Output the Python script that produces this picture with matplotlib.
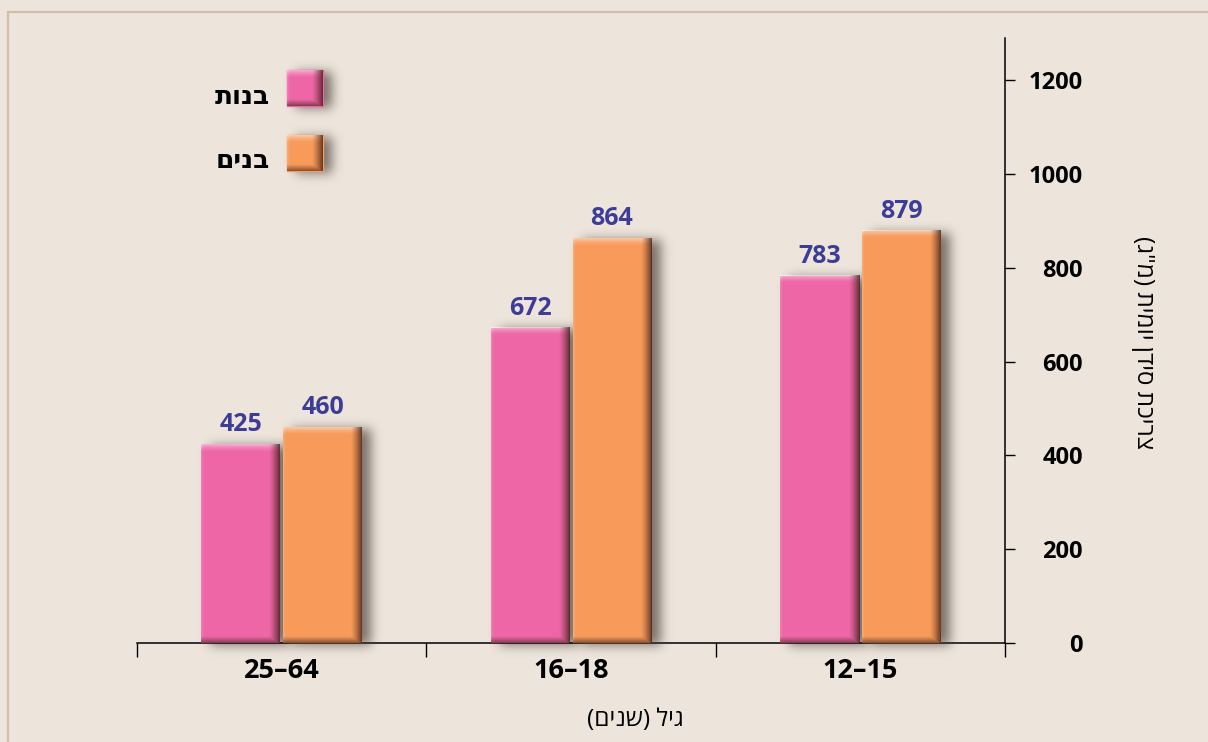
import numpy as np
import matplotlib
matplotlib.use('Agg')
import matplotlib.pyplot as plt
from matplotlib.patches import Rectangle

plt.rcParams['font.family'] = ['Open Sans', 'DejaVu Sans']

# צריכת סידן יומית לפי גיל ומין (מ"ג)
# סדר הקבוצות משמאל לימין כמו בגרף (כיוון קריאה מימין לשמאל)
age_groups = ['25–64', '16–18', '12–15']
girls = [425, 672, 783]
boys = [460, 864, 879]

# matplotlib לא הופך טקסט עברי - המחרוזות כתובות בסדר חזותי
label_girls = 'תונב'            # בנות
label_boys = 'םינב'             # בנים
x_title = '(םינש) ליג'          # גיל (שנים)
y_title = '(ג"מ) תימוי ןדיס תכירצ'  # צריכת סידן יומית (מ"ג)

BG = '#EDE5DC'
PINK = '#EE66A6'
ORANGE = '#F79A5A'
VALUE_COLOR = '#3D3D95'

W_PX, H_PX = 1208, 742
fig = plt.figure(figsize=(W_PX / 100, H_PX / 100), dpi=100, facecolor=BG)

# מסגרת דקה סביב האזור
fig.patches.append(Rectangle((8 / W_PX, -0.01), 1.2, 1 - 12 / H_PX + 0.01,
                             transform=fig.transFigure, fill=False,
                             edgecolor='#D2BEA5', lw=1.6, zorder=0))

ax = fig.add_axes([137 / W_PX, 1 - 643 / H_PX, (1005 - 137) / W_PX, (643 - 38) / H_PX])
ax.set_facecolor('none')
ax.set_xlim(-0.5, 2.5)
ax.set_ylim(0, 1290)


def gauss_blur(a, s):
    r = int(3 * s)
    k = np.exp(-np.arange(-r, r + 1) ** 2 / (2 * s * s))
    k /= k.sum()
    a = np.apply_along_axis(lambda v: np.convolve(v, k, mode='same'), 0, a)
    a = np.apply_along_axis(lambda v: np.convolve(v, k, mode='same'), 1, a)
    return a


def bevel(axis, x0, y0, x1, y1, z=3):
    """צל ותבליט על מלבן שכבר צויר (קואורדינטות נתונים)"""
    xl, yl = axis.get_xlim(), axis.get_ylim()
    (px0, py0), (px1, py1) = axis.transData.transform([(x0, y0), (x1, y1)])
    w = max(int(round(px1 - px0)), 2)
    h = max(int(round(py1 - py0)), 2)
    inv = axis.transData.inverted()

    # צל מטושטש מימין לעמודה
    pad, ox, oy = 28, 9, -2
    m = np.zeros((h + 2 * pad, w + 2 * pad))
    m[pad + oy:pad + oy + h, pad + ox:pad + ox + w] = 1.0
    m = gauss_blur(m, 5.5)
    sh = np.zeros(m.shape + (4,))
    sh[..., 0], sh[..., 1], sh[..., 2] = 0.28, 0.23, 0.20
    sh[..., 3] = 0.68 * m
    (ex0, ey0), (ex1, ey1) = inv.transform([(px0 - pad, py0 - pad), (px0 + w + pad, py0 + h + pad)])
    axis.imshow(sh, extent=[ex0, ex1, ey0, ey1], origin='lower', aspect='auto',
                zorder=z - 1, interpolation='bilinear', clip_on=False)

    # הבהרה למעלה, הכהיה בצד ימין ובתחתית
    cols = np.arange(w) + 0.5
    rows = np.arange(h) + 0.5
    C, R = np.meshgrid(cols, rows)
    right = np.clip((C - (w - 11)) / 11, 0, 1) ** 1.3
    bottom = np.clip((7 - R) / 7, 0, 1) ** 1.2
    top = np.clip((R - (h - 8)) / 8, 0, 1) ** 1.5
    left = np.clip((3 - C) / 3, 0, 1)
    dark = np.clip(np.maximum(0.8 * right, 0.62 * bottom), 0, 1)
    light = np.clip(0.5 * top + 0.18 * left, 0, 1) * (1 - dark)
    ov = np.zeros((h, w, 4))
    a = dark + light
    safe = np.where(a > 0, a, 1)
    for i, dc in enumerate((0.24, 0.11, 0.08)):
        ov[..., i] = (dark * dc + light * 1.0) / safe
    ov[..., 3] = np.clip(a, 0, 1)
    (fx0, fy0), (fx1, fy1) = inv.transform([(px0, py0), (px0 + w, py0 + h)])
    axis.imshow(ov, extent=[fx0, fx1, fy0, fy1], origin='lower', aspect='auto',
                zorder=z + 0.5, interpolation='bilinear', clip_on=False)
    axis.set_xlim(xl)
    axis.set_ylim(yl)


x = np.arange(len(age_groups))
width = 0.272
off = 0.1415

bars_g = ax.bar(x - off, girls, width, color=PINK, zorder=3)
bars_b = ax.bar(x + off, boys, width, color=ORANGE, zorder=4)

for bars, z in ((bars_g, 3), (bars_b, 4)):
    for b in bars:
        bevel(ax, b.get_x(), 0, b.get_x() + b.get_width(), b.get_height(), z=z)

for bars, vals in ((bars_g, girls), (bars_b, boys)):
    for b, v in zip(bars, vals):
        ax.annotate(f'{v}', (b.get_x() + b.get_width() / 2, v), xytext=(0, 5),
                    textcoords='offset points', ha='center', va='bottom',
                    fontsize=18, fontweight='bold', color=VALUE_COLOR, zorder=10)

# צירים
for s in ('top', 'left'):
    ax.spines[s].set_visible(False)
ax.spines['right'].set_linewidth(1.1)
ax.spines['bottom'].set_linewidth(1.1)

ax.yaxis.tick_right()
ax.set_yticks(range(0, 1201, 200))
ax.tick_params(axis='y', direction='out', length=7, width=1, pad=49,
               labelsize=17, colors='black')
for t in ax.get_yticklabels():
    t.set_horizontalalignment('right')
    t.set_fontweight('bold')

ax.set_xticks([-0.5, 0.5, 1.5, 2.5])
ax.set_xticklabels([])
ax.tick_params(axis='x', which='major', direction='out', length=10, width=1)
ax.set_xticks(x, minor=True)
ax.set_xticklabels(age_groups, minor=True, fontsize=19.5, fontweight='bold')
ax.tick_params(axis='x', which='minor', length=0, pad=11)

fig.text(635 / W_PX, 1 - 720 / H_PX, x_title, ha='center', va='center', fontsize=17.5)
fig.text(1143 / W_PX, 1 - 343 / H_PX, y_title, ha='center', va='center',
         rotation=-90, fontsize=17.5)

# מקרא
lax = fig.add_axes([0, 0, 1, 1])
lax.set_xlim(0, W_PX)
lax.set_ylim(0, H_PX)
lax.axis('off')
lax.patch.set_visible(False)
for (y_top, col, lbl) in ((70, PINK, label_girls), (135, ORANGE, label_boys)):
    y_bot = y_top + 36
    lax.add_patch(Rectangle((287, H_PX - y_bot), 36, 36, color=col, zorder=3))
    bevel(lax, 287, H_PX - y_bot, 323, H_PX - y_top, z=3)
    lax.text(270, H_PX - (y_top + y_bot) / 2 - 8, lbl, ha='right', va='center',
             fontsize=19, fontweight='bold')

fig.savefig('out.png', dpi=100, facecolor=BG)
